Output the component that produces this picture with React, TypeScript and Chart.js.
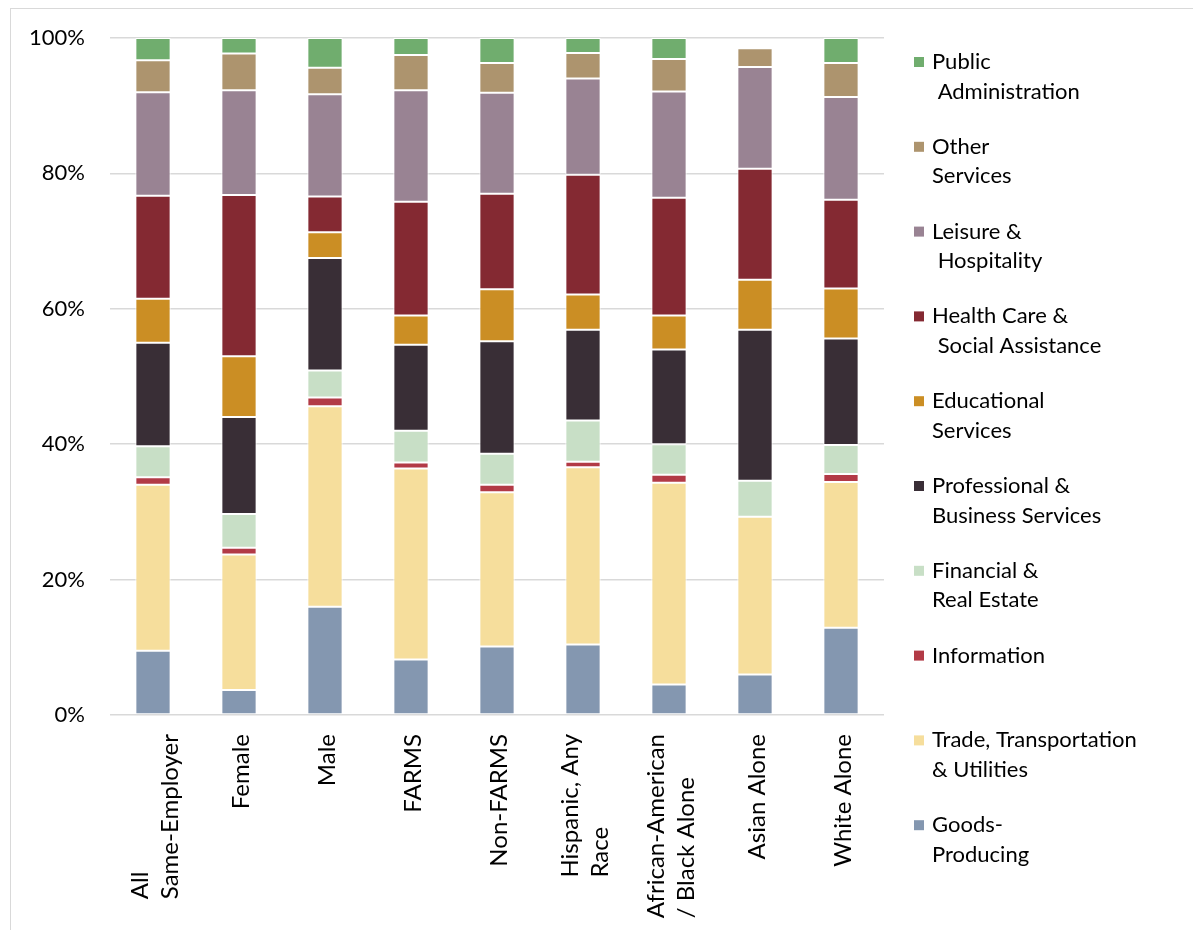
import React, { useEffect, useRef } from "react";
import { Chart, registerables } from "chart.js";

Chart.register(...registerables);

const categories = [
  "All\nSame-Employer",
  "Female",
  "Male",
  "FARMS",
  "Non-FARMS",
  "Hispanic, Any\nRace",
  "African-American\n/ Black Alone",
  "Asian Alone",
  "White Alone",
];

const seriesNames = [
  "Goods-\nProducing",
  "Trade, Transportation\n& Utilities",
  "Information",
  "Financial &\nReal Estate",
  "Professional &\nBusiness Services",
  "Educational\nServices",
  "Health Care &\n Social Assistance",
  "Leisure &\n Hospitality",
  "Other\nServices",
  "Public\n Administration",
];

const goodsProducing = [9.5, 3.7, 16.0, 8.2, 10.1, 10.4, 4.5, 6.0, 12.9];
const tradeTransportation = [24.5, 20.0, 29.6, 28.2, 22.8, 26.2, 29.8, 23.3, 21.5];
const information = [1.1, 1.0, 1.3, 0.9, 1.1, 0.8, 1.2, null, 1.2];
const financial = [4.6, 5.0, 4.0, 4.7, 4.6, 6.1, 4.5, 5.3, 4.3];
const professional = [15.3, 14.3, 16.6, 12.7, 16.6, 13.4, 14.0, 22.3, 15.7];
const educational = [6.5, 9.0, 3.8, 4.3, 7.7, 5.2, 5.0, 7.4, 7.4];
const healthCare = [15.2, 23.8, 5.3, 16.8, 14.1, 17.7, 17.4, 16.4, 13.1];
const leisure = [15.3, 15.5, 15.1, 16.5, 14.9, 14.2, 15.7, 15.0, 15.2];
const otherServices = [4.7, 5.4, 3.9, 5.2, 4.4, 3.8, 4.8, 2.8, 5.0];
const publicAdmin = [3.3, 2.3, 4.4, 2.5, 3.7, 2.2, 3.1, null, 3.7];

const yTicks = [0, 20, 40, 60, 80, 100];

const seriesValues = [
  goodsProducing,
  tradeTransportation,
  information,
  financial,
  professional,
  educational,
  healthCare,
  leisure,
  otherServices,
  publicAdmin,
];

const seriesColors = [
  "#8497B0",
  "#F6DE9C",
  "#B23A46",
  "#C8DFC6",
  "#392E36",
  "#CB8E24",
  "#842932",
  "#998393",
  "#AD946E",
  "#70AD6E",
];

const FONT = "Lato, 'Open Sans', sans-serif";

const xLabelPlugin = {
  id: "xLabels",
  afterDraw(chart: any) {
    const ctx = chart.ctx;
    const xs = chart.scales.x;
    const bottom = chart.chartArea.bottom;
    ctx.save();
    ctx.font = `24px ${FONT}`;
    ctx.fillStyle = "#000";
    ctx.textBaseline = "middle";
    ctx.textAlign = "left";
    categories.forEach((cat, i) => {
      const lines = cat.split("\n");
      const x = xs.getPixelForValue(i);
      const maxW = Math.max(...lines.map((l) => ctx.measureText(l).width));
      const startY = bottom + 19 + maxW;
      lines.forEach((line, j) => {
        const lx = x + (j - (lines.length - 1) / 2) * 30 + 2;
        ctx.save();
        ctx.translate(lx, startY);
        ctx.rotate(-Math.PI / 2);
        ctx.fillText(line, 0, 0);
        ctx.restore();
      });
    });
    ctx.restore();
  },
};

const legendPlugin = {
  id: "customLegend",
  afterDraw(chart: any) {
    const ctx = chart.ctx;
    const area = chart.chartArea;
    const datasets = chart.data.datasets;
    const markerX = area.right + 30;
    const textX = area.right + 48;
    const startY = area.top + 24;
    const step = 84.8;
    const lineH = 29.5;
    ctx.save();
    ctx.font = `22px ${FONT}`;
    ctx.textBaseline = "middle";
    ctx.textAlign = "left";
    const order = datasets.map((_: any, i: number) => i).reverse();
    order.forEach((di: number, k: number) => {
      const ds = datasets[di];
      const y = startY + k * step;
      ctx.fillStyle = ds.backgroundColor;
      ctx.fillRect(markerX, y - 5, 10, 10);
      ctx.fillStyle = "#000";
      String(ds.label)
        .split("\n")
        .forEach((line: string, j: number) => {
          ctx.fillText(line, textX, y + j * lineH);
        });
    });
    ctx.restore();
  },
};

function ChartView() {
  const ref = useRef<HTMLCanvasElement | null>(null);
  useEffect(() => {
    if (!ref.current) return;
    const chart = new Chart(ref.current, {
      type: "bar",
      data: {
        labels: categories,
        datasets: seriesNames.map((name, i) => ({
          label: name,
          data: seriesValues[i] as any,
          backgroundColor: seriesColors[i],
          borderColor: "#ffffff",
          borderWidth: 1,
          borderSkipped: false,
          barPercentage: 0.41,
          categoryPercentage: 1,
          stack: "s",
        })),
      },
      options: {
        responsive: false,
        animation: false,
        layout: { padding: { left: 14, right: 309, top: 29, bottom: 215 } },
        plugins: {
          legend: { display: false },
          tooltip: { enabled: false },
          title: { display: false },
        },
        scales: {
          x: {
            stacked: true,
            grid: { display: false, drawTicks: false },
            border: { display: false },
            ticks: { display: false },
            afterFit: (s: any) => {
              s.height = 0;
              s.paddingLeft = 0;
              s.paddingRight = 0;
            },
          },
          y: {
            stacked: true,
            min: 0,
            max: 100,
            afterBuildTicks: (s: any) => {
              s.ticks = yTicks.map((v) => ({ value: v }));
            },
            afterFit: (s: any) => {
              s.width = 85;
              s.paddingTop = 0;
              s.paddingBottom = 0;
            },
            grid: { color: "#d9d9d9", lineWidth: 1.5, drawTicks: false },
            border: { display: false },
            ticks: {
              padding: 25,
              color: "#000",
              font: { family: FONT, size: 22 },
              callback: (v: any) => `${v}%`,
            },
          },
        },
      },
      plugins: [xLabelPlugin, legendPlugin],
    });
    let alive = true;
    if ((document as any).fonts) {
      (document as any).fonts.load(`22px Lato`).then(() => {
        if (alive) chart.update();
      });
    }
    return () => {
      alive = false;
      chart.destroy();
    };
  }, []);
  return <canvas ref={ref} width={1182} height={921} style={{ width: 1182, height: 921, display: "block" }} />;
}

export default function App() {
  return (
    <div
      style={{
        position: "fixed",
        left: 0,
        top: 0,
        width: 1193,
        height: 930,
        overflow: "hidden",
        background: "#fff",
      }}
    >
      <div
        style={{
          position: "absolute",
          left: 10,
          top: 8,
          width: 1300,
          height: 1000,
          border: "1px solid #d9d9d9",
        }}
      >
        <ChartView />
      </div>
    </div>
  );
}
